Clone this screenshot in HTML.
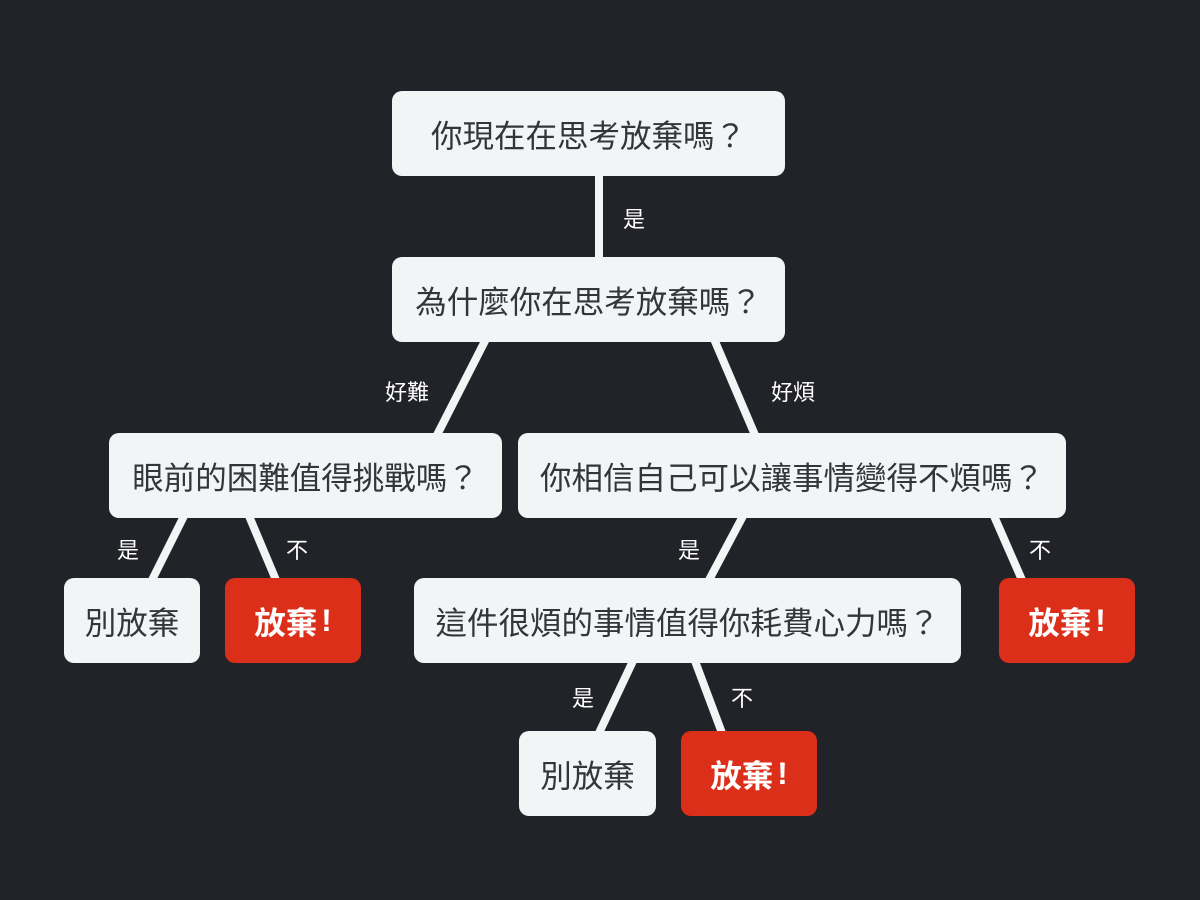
<!DOCTYPE html>
<html><head><meta charset="utf-8"><style>
html,body{margin:0;padding:0;}
body{width:1200px;height:900px;background:#212328;position:relative;overflow:hidden;font-family:"Liberation Sans","Noto Sans CJK TC",sans-serif;}
.b{position:absolute;background:#f3f4f6;color:#333639;border-radius:10px;display:flex;align-items:center;justify-content:center;font-size:31.5px;height:85px;}
.r{background:#dc2f1a;color:#fff;font-weight:bold;}
.r span{margin-left:4px;}
.l{position:absolute;color:#fff;font-size:22px;transform:translate(-50%,-50%);}
svg{position:absolute;left:0;top:0;}
</style></head><body>
<svg width="1200" height="900"><g stroke="#f3f4f6" stroke-width="8" stroke-linecap="butt">
<line x1="599" y1="174" x2="599" y2="259"/>
<line x1="486" y1="339" x2="437" y2="435"/>
<line x1="714" y1="339" x2="755" y2="435"/>
<line x1="184" y1="516" x2="152" y2="580"/>
<line x1="249" y1="516" x2="276" y2="580"/>
<line x1="743" y1="516" x2="709" y2="580"/>
<line x1="994" y1="516" x2="1022" y2="580"/>
<line x1="633" y1="661" x2="599" y2="733"/>
<line x1="695" y1="661" x2="722" y2="733"/>
</g></svg>
<div class="b" style="left:392px;top:91px;width:393px;">你現在在思考放棄嗎？</div>
<div class="b" style="left:392px;top:257px;width:393px;">為什麼你在思考放棄嗎？</div>
<div class="b" style="left:109px;top:433px;width:393px;">眼前的困難值得挑戰嗎？</div>
<div class="b" style="left:518px;top:433px;width:548px;">你相信自己可以讓事情變得不煩嗎？</div>
<div class="b" style="left:64px;top:578px;width:136px;">別放棄</div>
<div class="b r" style="left:225px;top:578px;width:136px;">放棄<span>!</span></div>
<div class="b" style="left:414px;top:578px;width:547px;">這件很煩的事情值得你耗費心力嗎？</div>
<div class="b r" style="left:999px;top:578px;width:136px;">放棄<span>!</span></div>
<div class="b" style="left:519px;top:731px;width:137px;">別放棄</div>
<div class="b r" style="left:681px;top:731px;width:136px;">放棄<span>!</span></div>
<div class="l" style="left:634px;top:218px;">是</div>
<div class="l" style="left:407px;top:391px;">好難</div>
<div class="l" style="left:793px;top:391px;">好煩</div>
<div class="l" style="left:128px;top:549px;">是</div>
<div class="l" style="left:297px;top:549px;">不</div>
<div class="l" style="left:689px;top:549px;">是</div>
<div class="l" style="left:1040px;top:549px;">不</div>
<div class="l" style="left:583px;top:697px;">是</div>
<div class="l" style="left:742px;top:697px;">不</div>
</body></html>
